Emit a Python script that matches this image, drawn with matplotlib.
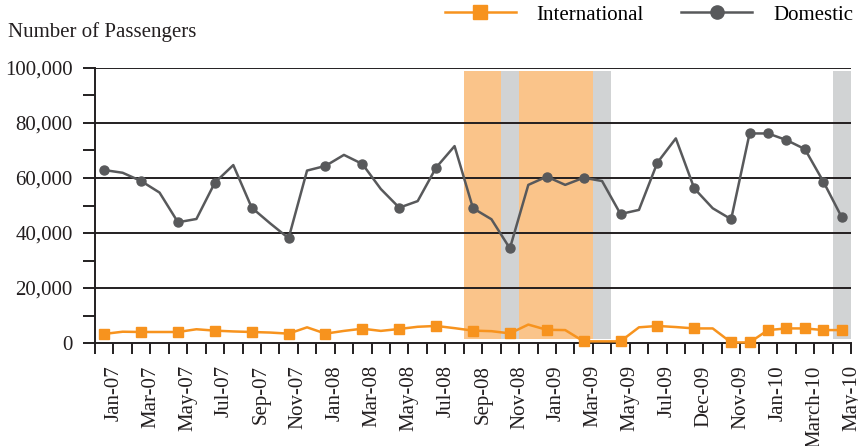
import matplotlib
matplotlib.use("Agg")
import matplotlib.pyplot as plt
from matplotlib.lines import Line2D
from matplotlib.transforms import ScaledTranslation
from matplotlib.ticker import MultipleLocator, FuncFormatter, FixedLocator
import numpy as np

plt.rcParams['font.family'] = ['Liberation Serif', 'DejaVu Serif']

tick_labels = ["Jan-07", "Mar-07", "May-07", "Jul-07", "Sep-07", "Nov-07",
               "Jan-08", "Mar-08", "May-08", "Jul-08", "Sep-08", "Nov-08",
               "Jan-09", "Mar-09", "May-09", "Jul-09", "Dec-09", "Nov-09",
               "Jan-10", "March-10", "May-10"]
label_positions = list(range(0, 41, 2))

domestic = [62900, 61900, 58900, 54700, 43900, 45100, 58300, 64700, 49200, 43500,
            38100, 62700, 64400, 68400, 65100, 56000, 49200, 51600, 63800, 71600,
            49000, 45000, 34400, 57500, 60500, 57500, 60100, 58900, 46900, 48400,
            65600, 74400, 56200, 49000, 45000, 76200, 76200, 73800, 70500, 58700,
            45700]
international = [3300, 4100, 4000, 4000, 4000, 5000, 4500, 4200, 4000, 3800,
                 3400, 5700, 3400, 4400, 5200, 4400, 5100, 5900, 6200, 5400,
                 4500, 4300, 3500, 6700, 4800, 4700, 600, 600, 600, 5700,
                 6200, 5800, 5300, 5300, 200, 200, 4700, 5300, 5300, 4700,
                 4700]
marker_idx = list(range(0, 35, 2)) + [35, 36, 37, 38, 39, 40]

orange_cats = [20, 21, 23, 24, 25, 26]
gray_cats = [22, 27, 40]
shade_bottom = 1500
shade_top = 98800

fig = plt.figure(figsize=(8.58, 4.46), dpi=100)
ax = fig.add_axes([95/858, 1-343/446, (851-95)/858, (343-68)/446])

x = np.arange(len(domestic))
ax.bar(orange_cats, shade_top - shade_bottom, bottom=shade_bottom, width=1.0,
       color='#FAC48A', zorder=0.5, linewidth=0)
ax.bar(gray_cats, shade_top - shade_bottom, bottom=shade_bottom, width=1.0,
       color='#D1D3D4', zorder=0.5, linewidth=0)

for yv in [20000, 40000, 60000, 80000, 100000]:
    ax.axhline(yv, color='#231F20', lw=1.4, zorder=1)

ax.plot(x, domestic, color='#58595B', lw=1.8, marker='o', markersize=6.5,
        markevery=marker_idx, zorder=3, clip_on=False, label='Domestic')
ax.plot(x, international, color='#F7931E', lw=1.8, marker='s', markersize=7,
        markevery=marker_idx, zorder=3, clip_on=False, label='International')

ax.set_xlim(-0.5, 40.5)
ax.set_ylim(0, 100000)

for s in ['top', 'right']:
    ax.spines[s].set_visible(False)
ax.spines['left'].set_linewidth(1.4)
ax.spines['bottom'].set_linewidth(1.4)
ax.spines['left'].set_color('#231F20')
ax.spines['bottom'].set_color('#231F20')

ax.yaxis.set_major_locator(MultipleLocator(20000))
ax.yaxis.set_minor_locator(MultipleLocator(10000))
ax.yaxis.set_major_formatter(FuncFormatter(lambda v, p: f"{int(v):,}"))
ax.tick_params(axis='y', which='both', length=9, width=1.4, color='#231F20',
               labelsize=15, pad=7, labelcolor='#231F20')

ax.xaxis.set_major_locator(FixedLocator(label_positions))
ax.set_xticklabels(tick_labels, rotation=90, fontsize=15, color='#231F20')
ax.xaxis.set_minor_locator(FixedLocator(np.arange(-0.5, 41, 1.0)))
ax.tick_params(axis='x', which='major', length=0, pad=16)
ax.tick_params(axis='x', which='minor', length=8, width=1.4, color='#231F20')
offset = ScaledTranslation(7/72, 0, fig.dpi_scale_trans)
for lab in ax.get_xticklabels():
    lab.set_transform(lab.get_transform() + offset)

fig.text(8/858, 1-32/446, "Number of Passengers", fontsize=15, color='#231F20',
         va='center', ha='left')

handles = [Line2D([], [], color='#F7931E', lw=1.8, marker='s', markersize=10.5),
           Line2D([], [], color='#58595B', lw=1.8, marker='o', markersize=9.5)]
fig.legend(handles, ['International', 'Domestic'], loc='upper left',
           bbox_to_anchor=(445/858, 1-5/446), ncol=2, frameon=False,
           fontsize=15, handlelength=3.4, handletextpad=1.0, columnspacing=1.8,
           borderpad=0, borderaxespad=0)

fig.savefig("out.png", dpi=100)
